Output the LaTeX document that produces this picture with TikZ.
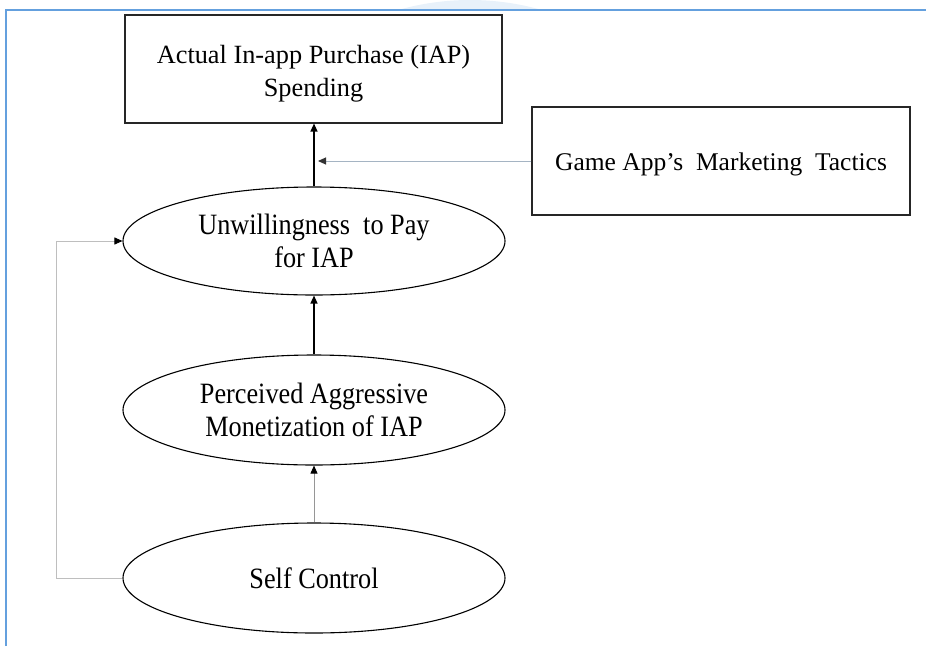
\documentclass[tikz,border=0pt]{standalone}
\usepackage{fontspec}
\setmainfont{Liberation Serif}
\newfontfamily\tallfont[FakeStretch=0.89]{Liberation Serif}
\usetikzlibrary{arrows.meta,shapes.geometric,calc}
\definecolor{frameblue}{RGB}{100,160,222}
\definecolor{wmblue}{RGB}{232,241,250}
\definecolor{linegray}{RGB}{150,150,150}
\definecolor{loopgray}{RGB}{190,190,190}
\definecolor{mkgray}{RGB}{165,180,195}
\tikzset{
  boxnode/.style={draw=black!85, line width=1.1pt, rectangle, inner sep=0pt, align=center},
  txtnode/.style={inner sep=0pt, align=center},
  ellnode/.style={draw=black, line width=1.1pt, ellipse, inner sep=0pt, minimum width=382pt, align=center,
    font=\tallfont\fontsize{29.5}{33}\selectfont},
  arr/.style={-{Triangle[length=8pt,width=7pt]}, line width=1.2pt, black},
}
\begin{document}
\begin{tikzpicture}[x=1pt,y=-1pt]
\useasboundingbox (0,0) rectangle (926,646);
\begin{scope}
\clip (0,0) rectangle (926,10);
\fill[wmblue] (470,262) circle (262);
\end{scope}
\draw[frameblue, line width=1.6pt] (6,646) -- (6,10) -- (926,10);

\node[boxnode, minimum width=377pt, minimum height=108pt] (top) at (313.5,69) {};
\node[txtnode, font=\fontsize{26.3}{33}\selectfont] (toptext) at ([yshift=-5pt]top.center) {Actual In-app Purchase (IAP)\\Spending};
\node[boxnode, minimum width=378pt, minimum height=108pt] (mkt) at (721,161) {};
\node[txtnode, font=\fontsize{25.5}{33}\selectfont] (mkttext) at ([yshift=-3pt]mkt.center) {Game App's\ \ Marketing\ \ Tactics};
\node[ellnode, minimum height=108pt] (unw) at (314,241) {Unwillingness\ \ to Pay\\for IAP};
\node[ellnode, minimum height=110pt] (per) at (314,410) {Perceived Aggressive\\Monetization of IAP};
\node[ellnode, minimum height=110pt] (self) at (314,578) {Self Control};

\coordinate (mkend) at ($(unw.north |- mkt.west)+(4,0)$);
\coordinate (loopc) at ($(self.west)+(-66,0)$);

\draw[arr] (unw.north) -- (top.south -| unw.north);
\draw[arr] (per.north) -- (unw.south);
\draw[line width=0.8pt, linegray, arrows={-{Triangle[length=8pt,width=7pt,color=black]}}] (self.north) -- (per.south);
\draw[line width=0.9pt, mkgray, arrows={-{Triangle[length=8pt,width=7pt,color=black!80]}}] (mkt.west) -- (mkend);
\draw[line width=0.9pt, loopgray, arrows={-{Triangle[length=8pt,width=7pt,color=black]}}] (self.west) -- (loopc) |- (unw.west);
\end{tikzpicture}
\end{document}
